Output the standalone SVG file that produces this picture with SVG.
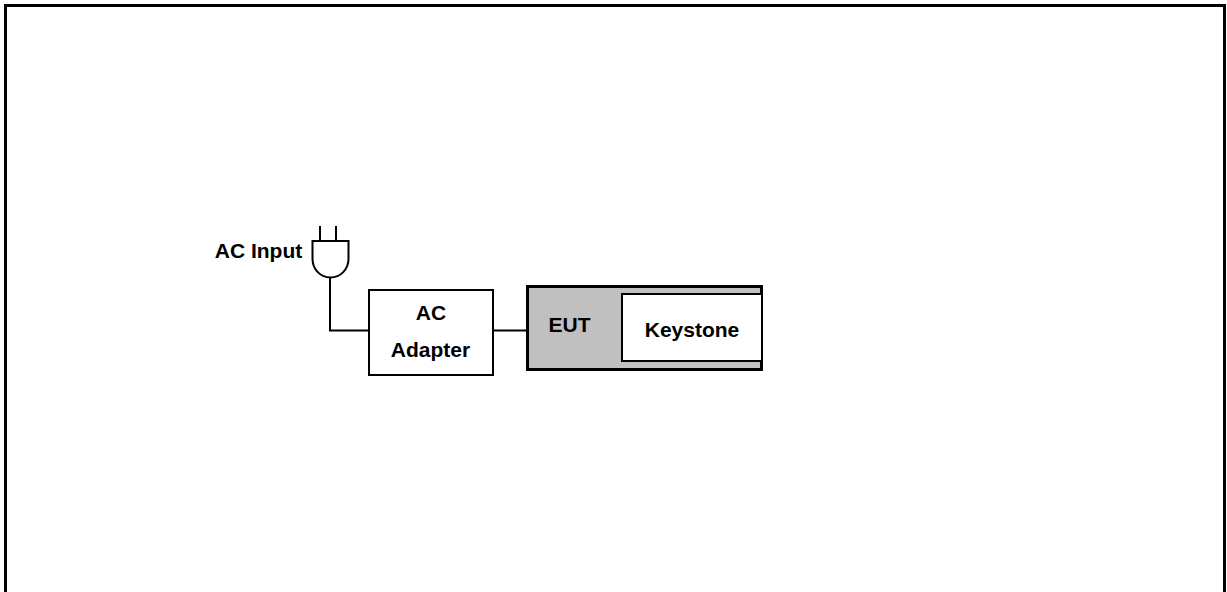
<svg xmlns="http://www.w3.org/2000/svg" width="1227" height="592" viewBox="0 0 1227 592">
<style>
text{font-family:"Liberation Sans",Arial,sans-serif;font-weight:700;font-size:21px;fill:#000;text-anchor:middle}
.l{fill:none;stroke:#000;stroke-width:2}
.b{fill:#fff;stroke:#000;stroke-width:2}
</style>
<rect width="1227" height="592" fill="#fff"/>
<path id="frame" d="M5.500 592V5.500H1224.500V592" fill="none" stroke="#000" stroke-width="3"/>
<g id="connectors">
<path class="l" d="M330 278V330.500H369"/>
<path class="l" d="M493 330.500H527"/>
</g>
<g id="ac-input">
<path class="l" d="M320 226V241M336 226V241"/>
<path class="l" d="M312.500 241H348.500V259A18 18.500 0 0 1 312.500 259Z"/>
<text x="258.500" y="258">AC Input</text>
</g>
<g id="ac-adapter">
<rect class="b" x="369" y="290" width="124" height="85"/>
<text x="431" y="320">AC</text>
<text x="430.500" y="357">Adapter</text>
</g>
<g id="eut">
<rect x="527.500" y="286.500" width="234" height="83" fill="#c0c0c0" stroke="#000" stroke-width="3"/>
<text x="569.500" y="332">EUT</text>
</g>
<g id="keystone">
<path class="b" d="M761 294H622V361H761"/>
<text x="692" y="337">Keystone</text>
</g>
</svg>
